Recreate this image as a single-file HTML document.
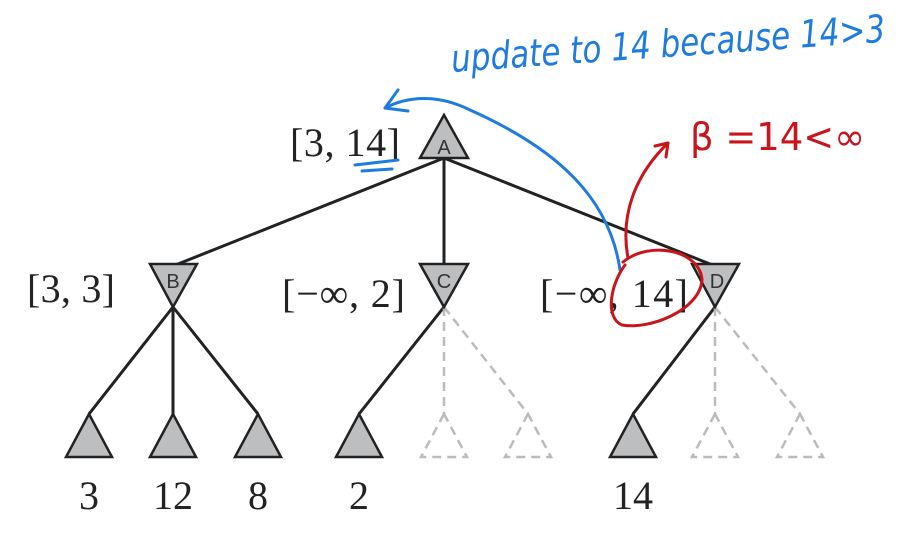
<!DOCTYPE html>
<html><head><meta charset="utf-8"><style>
body{margin:0;background:#fff;width:905px;height:540px;overflow:hidden}
svg{display:block}
.lbl{font-family:"Liberation Serif",serif;font-size:40px;fill:#222}
.nl{font-family:"Liberation Sans",sans-serif;font-size:20px;fill:#333}
</style></head><body>
<svg width="905" height="540" viewBox="0 0 905 540">
<g stroke="#222" stroke-width="3" fill="none">
<line x1="444" y1="158" x2="173" y2="266"/><line x1="444" y1="158" x2="444" y2="266"/><line x1="444" y1="158" x2="715" y2="266"/>
<line x1="173" y1="307" x2="89" y2="414"/><line x1="173" y1="307" x2="173" y2="414"/><line x1="173" y1="307" x2="258" y2="414"/>
<line x1="444" y1="307" x2="359" y2="414"/><line x1="715" y1="307" x2="633" y2="414"/>
</g>
<g stroke="#bbb" stroke-width="2.5" fill="none" stroke-dasharray="9,6">
<line x1="444" y1="307" x2="444" y2="414"/><line x1="444" y1="307" x2="528" y2="414"/>
<line x1="715" y1="307" x2="715" y2="414"/><line x1="715" y1="307" x2="800" y2="414"/>
<polygon points="444,414 421,457 467,457"/><polygon points="528,414 505,457 551,457"/>
<polygon points="715,414 692,457 738,457"/><polygon points="800,414 777,457 823,457"/>
</g>
<g fill="#bdbec0" stroke="#222" stroke-width="2.5">
<polygon points="444,115 420,158 468,158"/>
<polygon points="150,264 197,264 173,307"/>
<polygon points="420,264 468,264 444,307"/>
<polygon points="692,264 739,264 715,307"/>
<polygon points="89,414 66,457 112,457"/><polygon points="173,414 150,457 196,457"/>
<polygon points="258,414 235,457 281,457"/><polygon points="359,414 336,457 382,457"/>
<polygon points="633,414 610,457 656,457"/>
</g>
<g class="nl" text-anchor="middle">
<text x="444" y="154">A</text><text x="173" y="288">B</text><text x="444" y="288">C</text><text x="717" y="288">D</text>
</g>
<g class="lbl">
<text x="290" y="156" textLength="110">[3, 14]</text>
<text x="27" y="302" textLength="88">[3, 3]</text>
<text x="282" y="307" textLength="123">[−∞, 2]</text>
<text x="540" y="307" textLength="148">[−∞, 14]</text>
<g text-anchor="middle"><text x="89" y="509">3</text><text x="173" y="509">12</text><text x="258" y="509">8</text><text x="359" y="509">2</text><text x="633" y="509">14</text></g>
</g>
<g stroke="#1e7be0" stroke-width="3" fill="none" stroke-linecap="round">
<path d="M620,270 C610,200 560,150 470,110 C440,95 410,95 385,108"/>
<path d="M385,108 L398,90 M385,108 L408,111"/>
<path d="M355,165 L398,160 M362,171 L392,169"/>
</g>
<text x="452" y="72" transform="rotate(-4 452 72)" textLength="435" lengthAdjust="spacingAndGlyphs" font-family="'DejaVu Sans',sans-serif" font-size="38" font-style="italic" fill="#1e7be0">update to 14 because 14&gt;3</text>
<g stroke="#c8141a" stroke-width="3" fill="none" stroke-linecap="round">
<path d="M628,258 C620,215 635,175 668,143"/>
<path d="M668,143 L655,146 M668,143 L666,157"/>
<path d="M623,262 C650,240 700,250 702,280 C700,310 650,330 622,325 C605,318 610,285 625,265"/>
</g>
<text x="690" y="150" textLength="175" lengthAdjust="spacingAndGlyphs" font-family="'DejaVu Sans',sans-serif" font-size="38" fill="#c8141a">β =14&lt;∞</text>
</svg>
</body></html>
